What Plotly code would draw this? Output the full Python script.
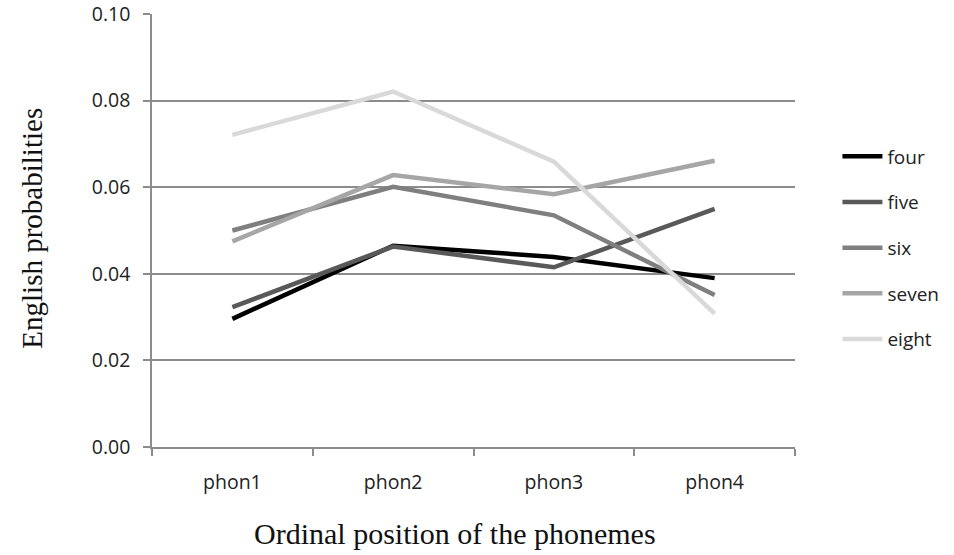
import plotly.graph_objects as go

categories = ["phon1", "phon2", "phon3", "phon4"]
four = [0.0296, 0.0465, 0.0439, 0.0390]
five = [0.0323, 0.0463, 0.0415, 0.0550]
six = [0.0500, 0.0601, 0.0535, 0.0351]
seven = [0.0475, 0.0628, 0.0584, 0.0661]
eight = [0.0721, 0.0821, 0.0659, 0.0308]

series = [("four", four, "#000000"), ("five", five, "#595959"),
          ("six", six, "#7f7f7f"), ("seven", seven, "#a6a6a6"),
          ("eight", eight, "#d9d9d9")]

fig = go.Figure()
for name, vals, col in series:
    fig.add_trace(go.Scatter(x=categories, y=vals, mode="lines", name=name,
                             legendgroup=name,
                             line=dict(color=col, width=4.5)))

axcol = "#8c8c8c"
tickfont = dict(family="Open Sans", size=19.5, color="#222")
fig.update_layout(
    width=954, height=555,
    margin=dict(l=152, r=159, t=14, b=108, autoexpand=False),
    paper_bgcolor="white", plot_bgcolor="white",
    showlegend=True,
    legend=dict(x=1.066, y=0.715, xanchor="left", yanchor="top",
                font=dict(family="Open Sans", size=19, color="#222"),
                tracegroupgap=18, itemwidth=40),
    xaxis=dict(showline=True, linecolor=axcol, linewidth=1.5,
               ticks="outside", ticklen=7, tickcolor=axcol, tickwidth=1.5,
               tickson="boundaries", showgrid=False, automargin=False,
               tickfont=tickfont, ticklabelstandoff=17,
               range=[-0.5, 3.5]),
    yaxis=dict(range=[0, 0.1], dtick=0.02, tickformat=".2f",
               showline=True, linecolor=axcol, linewidth=1.5,
               ticks="outside", ticklen=7, tickcolor=axcol, tickwidth=1.5,
               showgrid=True, gridcolor=axcol, gridwidth=1.5, zeroline=False,
               automargin=False, tickfont=tickfont, ticklabelstandoff=9,
               ticklabeloverflow="allow"),
    annotations=[
        dict(text="Ordinal position of the phonemes", xref="paper", yref="paper",
             x=0.471, y=-0.205, yshift=2, xanchor="center", yanchor="middle",
             showarrow=False,
             font=dict(family="Liberation Serif", size=30, color="#111")),
        dict(text="English probabilities", xref="paper", yref="paper",
             x=-0.187, y=0.506, xanchor="center", yanchor="middle", showarrow=False,
             textangle=-90,
             font=dict(family="Liberation Serif", size=29, color="#111")),
    ],
)

fig.write_html("out.html", config={"displayModeBar": False},
               post_script="document.body.style.margin='0px';")
